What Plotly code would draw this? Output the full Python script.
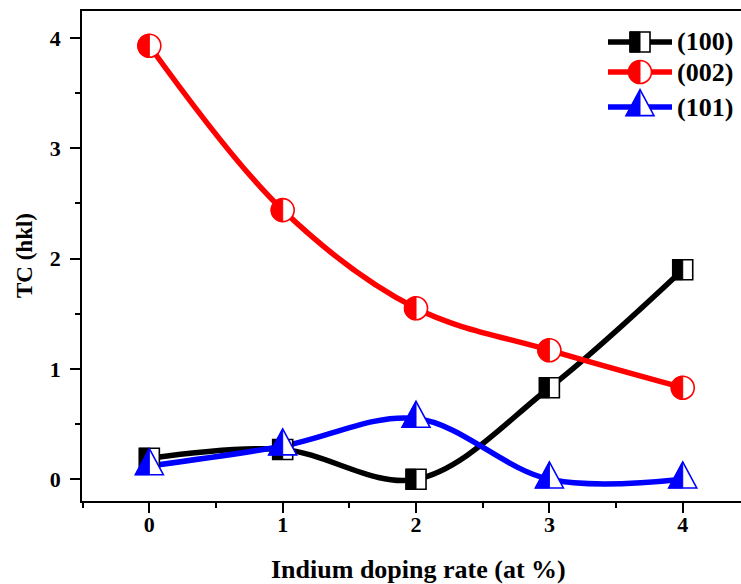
import plotly.graph_objects as go

# Indium doping rate (at %) and texture coefficients of three reflections
doping = [0, 1, 2, 3, 4]
tc_100 = [0.19, 0.27, 0.00, 0.83, 1.90]
tc_002 = [3.93, 2.44, 1.55, 1.17, 0.83]
tc_101 = [0.12, 0.30, 0.55, 0.00, 0.00]

series = [
    ("(100)", tc_100, "#000000", "square"),
    ("(002)", tc_002, "#ff0000", "circle"),
    ("(101)", tc_101, "#0000ff", "triangle"),
]

W, H = 741, 584
ML, MR, MT, MB = 82, 0, 11, 83
PW, PH = W - ML - MR, H - MT - MB
FONT = "Liberation Serif"


def px_x(p):
    return (p - ML) / PW


def px_y(p):
    return (H - MB - p) / PH


K = 0.5523


def marker_paths(kind):
    """Return (outline path, left-half path) in pixel units around the anchor."""
    if kind == "square":
        s = 10
        full = f"M {-s},{-s} L {s},{-s} L {s},{s} L {-s},{s} Z"
        half = f"M {-s},{-s} L 0,{-s} L 0,{s} L {-s},{s} Z"
    elif kind == "circle":
        r = 11.5
        k = K * r
        full = (f"M 0,{r} C {k},{r} {r},{k} {r},0 C {r},{-k} {k},{-r} 0,{-r} "
                f"C {-k},{-r} {-r},{-k} {-r},0 C {-r},{k} {-k},{r} 0,{r} Z")
        half = (f"M 0,{r} C {-k},{r} {-r},{k} {-r},0 "
                f"C {-r},{-k} {-k},{-r} 0,{-r} Z")
    else:
        w, h = 14, 26
        top, bot = 2 * h / 3, -h / 3
        full = f"M 0,{top} L {w},{bot} L {-w},{bot} Z"
        half = f"M 0,{top} L 0,{bot} L {-w},{bot} Z"
    return full, half


def marker_shapes(kind, color, xa, ya, xref, yref):
    full, half = marker_paths(kind)
    common = dict(type="path", xref=xref, yref=yref, xsizemode="pixel",
                  ysizemode="pixel", xanchor=xa, yanchor=ya, layer="above")
    return [
        dict(path=full, fillcolor="white", line=dict(color=color, width=1.6), **common),
        dict(path=half, fillcolor=color, line=dict(color=color, width=1.0), **common),
    ]


fig = go.Figure()
shapes = []
annotations = []

for name, vals, color, kind in series:
    fig.add_trace(go.Scatter(
        x=doping, y=vals, mode="lines", name=name,
        line=dict(color=color, width=5.5, shape="spline", smoothing=1.0),
        showlegend=False,
    ))
    for xv, yv in zip(doping, vals):
        shapes += marker_shapes(kind, color, xv, yv, "x", "y")

# hand-built legend in the upper right corner
legend_rows = [42, 72, 107]
for (name, vals, color, kind), row in zip(series, legend_rows):
    shapes.append(dict(type="line", xref="paper", yref="paper",
                       x0=px_x(608), x1=px_x(672), y0=px_y(row), y1=px_y(row),
                       line=dict(color=color, width=5.5), layer="above"))
    shapes += marker_shapes(kind, color, px_x(640), px_y(row), "paper", "paper")
    annotations.append(dict(
        text=name, xref="paper", yref="paper", x=px_x(675), y=px_y(row),
        xanchor="left", yanchor="middle", showarrow=False,
        font=dict(family=FONT, size=26, color="black", weight="bold"),
    ))

annotations.append(dict(
    text="TC (hkl)", xref="paper", yref="paper", x=px_x(24), y=px_y(256),
    xanchor="center", yanchor="middle", textangle=-90, showarrow=False,
    font=dict(family=FONT, size=23, color="black", weight="bold"),
))
annotations.append(dict(
    text="Indium doping rate (at %)", xref="paper", yref="paper",
    x=px_x(418), y=px_y(569), xanchor="center", yanchor="middle",
    showarrow=False,
    font=dict(family=FONT, size=26, color="black", weight="bold"),
))

tick_font = dict(family=FONT, size=22, color="black", weight="bold")
axis_common = dict(
    showgrid=False, zeroline=False, showline=True, linecolor="black",
    linewidth=1.6, ticks="outside", ticklen=10, tickwidth=1.6,
    tickcolor="black", tickfont=tick_font,
    minor=dict(ticks="outside", ticklen=5, tickwidth=1.6, tickcolor="black",
               dtick=0.5, showgrid=False),
)

fig.update_layout(
    width=W, height=H,
    margin=dict(l=ML, r=MR, t=MT, b=MB),
    paper_bgcolor="white", plot_bgcolor="white",
    shapes=shapes, annotations=annotations,
    xaxis=dict(range=[-0.505, 4.437], tickvals=doping, mirror=True,
               ticklabelstandoff=-7, **axis_common),
    yaxis=dict(range=[-0.197, 4.245], tickvals=[0, 1, 2, 3, 4], mirror=False,
               ticklabelstandoff=5, **axis_common),
)

fig.write_html("out.html")
